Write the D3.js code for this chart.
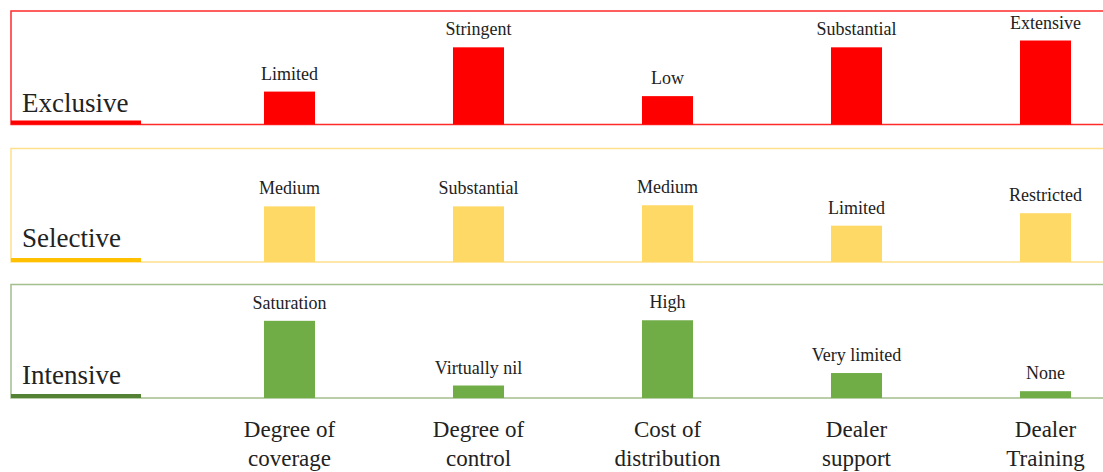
<!DOCTYPE html>
<html>
<head>
<meta charset="utf-8">
<script src="https://cdn.jsdelivr.net/npm/d3@7"></script>
<style>
  body { margin: 0; font-family: "Liberation Serif", "Times New Roman", serif !important; }
  svg text, svg tspan { font-family: "Liberation Serif", "Times New Roman", serif !important; }
</style>
</head>
<body>
<svg id="chart" width="1103" height="472" font-family="Liberation Serif"></svg>
<script>
// Distribution intensity compared across five criteria
const criteria = [
  ["Degree of", "coverage"],
  ["Degree of", "control"],
  ["Cost of", "distribution"],
  ["Dealer", "support"],
  ["Dealer", "Training"]
];
const strategies = ["Exclusive", "Selective", "Intensive"];

// Relative level (0-100) and descriptive label per criterion
const exclusiveValues = [29, 68, 25, 68, 74];
const exclusiveLabels = ["Limited", "Stringent", "Low", "Substantial", "Extensive"];
const selectiveValues = [49, 49, 50, 32, 43];
const selectiveLabels = ["Medium", "Substantial", "Medium", "Limited", "Restricted"];
const intensiveValues = [68, 11, 68.5, 22, 6];
const intensiveLabels = ["Saturation", "Virtually nil", "High", "Very limited", "None"];

const fontFamily = "Times New Roman";
const ink = "#222222";

const panels = [
  { name: strategies[0], values: exclusiveValues, labels: exclusiveLabels,
    fill: "#FF0000", border: "#FF2a2a", accent: "#FF0000", top: 11, labelDy: 12.5 },
  { name: strategies[1], values: selectiveValues, labels: selectiveLabels,
    fill: "#FFD966", border: "#FFE08A", accent: "#FFC000", top: 148.5, labelDy: 15 },
  { name: strategies[2], values: intensiveValues, labels: intensiveLabels,
    fill: "#70AD47", border: "#A3BF8C", accent: "#548235", top: 284.5, labelDy: 14.5 }
];

const svg = d3.select("#chart").style("display", "block");
const panelH = 113.5;
const panelLeft = 11;

const x = d3.scaleBand()
  .domain(d3.range(criteria.length))
  .range([195, 1140])
  .paddingInner(0.73)
  .paddingOuter(0.365);

panels.forEach(p => {
  const bottom = p.top + panelH;
  const y = d3.scaleLinear().domain([0, 100]).range([bottom, p.top]);
  const g = svg.append("g");

  // panel frame (open on the right side)
  g.append("rect")
    .attr("x", panelLeft).attr("y", p.top)
    .attr("width", 1120).attr("height", panelH)
    .attr("fill", "none")
    .attr("stroke", p.border)
    .attr("stroke-width", 1.5);

  // bars
  g.selectAll("rect.bar")
    .data(p.values)
    .join("rect")
    .attr("class", "bar")
    .attr("x", (d, i) => x(i))
    .attr("width", x.bandwidth())
    .attr("y", d => y(d))
    .attr("height", d => y(0) - y(d))
    .attr("fill", p.fill);

  // descriptive labels above bars
  g.selectAll("text.val")
    .data(p.values)
    .join("text")
    .attr("class", "val")
    .attr("x", (d, i) => x(i) + x.bandwidth() / 2)
    .attr("y", d => y(d) - 12)
    .attr("text-anchor", "middle")
    .attr("font-family", fontFamily)
    .attr("font-size", 18)
    .attr("fill", ink)
    .text((d, i) => p.labels[i]);

  // strategy name with accent underline
  g.append("text")
    .attr("x", 22)
    .attr("y", bottom - p.labelDy)
    .attr("font-family", fontFamily)
    .attr("font-size", 27)
    .attr("fill", ink)
    .text(p.name);

  g.append("line")
    .attr("x1", panelLeft).attr("x2", 141)
    .attr("y1", bottom - 2).attr("y2", bottom - 2)
    .attr("stroke", p.accent)
    .attr("stroke-width", 4);
});

// criteria labels under the panels
const cat = svg.append("g");
criteria.forEach((lines, i) => {
  const t = cat.append("text")
    .attr("text-anchor", "middle")
    .attr("font-family", fontFamily)
    .attr("font-size", 23)
    .attr("fill", ink)
    .attr("x", x(i) + x.bandwidth() / 2)
    .attr("y", 437);
  lines.forEach((ln, k) => {
    t.append("tspan")
      .attr("x", x(i) + x.bandwidth() / 2)
      .attr("dy", k === 0 ? 0 : 29)
      .text(ln);
  });
});
</script>
</body>
</html>
